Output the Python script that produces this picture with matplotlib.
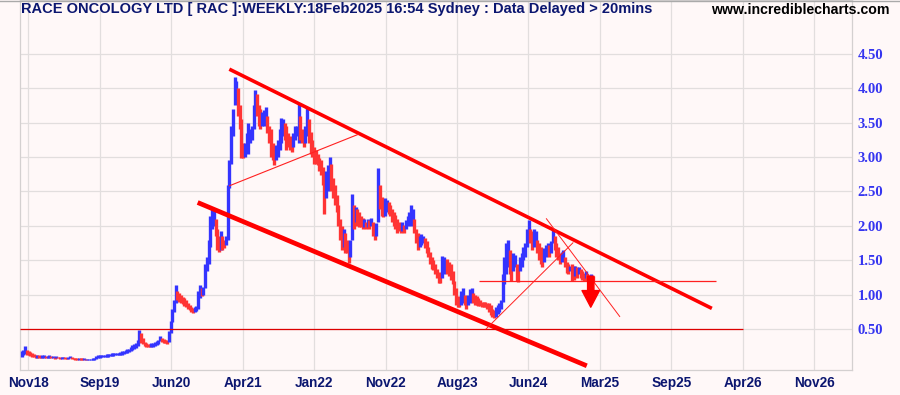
import numpy as np
import matplotlib
matplotlib.use("Agg")
import matplotlib.pyplot as plt
from matplotlib.lines import Line2D

# weekly bars, Nov 2018 -> 18 Feb 2025 (week index 0..330)
low = [
    .10, .12, .14, .12, .12, .11, .10, .10, .09, .09,
    .08, .08, .08, .09, .08, .08, .09, .08, .08, .07,
    .08, .08, .07, .07, .08, .07, .07, .07, .08, .07,
    .07, .06, .06, .06, .06, .05, .05, .05, .05, .05,
    .05, .05, .06, .07, .08, .09, .10, .10, .10, .10,
    .10, .11, .11, .11, .12, .12, .12, .13, .13, .14,
    .15, .16, .17, .18, .20, .22, .23, .26, .32, .30,
    .28, .26, .25, .24, .24, .25, .25, .26, .27, .28,
    .33, .31, .30, .30, .29, .32, .45, .60, .75, .88,
    .92, .90, .88, .86, .84, .82, .80, .78, .75, .74,
    .75, .76, .80, .95, .98, 1.00, 1.10, 1.35, 1.45, 1.70,
    1.95, 2.00, 1.85, 1.65, 1.62, 1.65, 1.65, 1.68, 1.72, 1.80,
    2.55, 2.90, 3.30, 3.75, 3.85, 3.60, 3.40, 2.98, 2.98, 3.00,
    3.10, 3.05, 3.20, 3.25, 3.40, 3.70, 3.60, 3.45, 3.40, 3.45,
    3.45, 3.50, 3.35, 3.20, 3.00, 2.95, 2.88, 2.95, 3.00, 3.10,
    3.20, 3.30, 3.25, 3.10, 3.15, 3.10, 3.08, 3.15, 3.25, 3.30,
    3.20, 3.25, 3.20, 3.15, 3.20, 3.30, 3.20, 3.05, 3.00, 2.90,
    2.90, 2.88, 2.80, 2.74, 2.60, 2.18, 2.40, 2.50, 2.60, 2.50,
    2.40, 2.30, 2.20, 2.00, 1.80, 1.65, 1.70, 1.60, 1.60, 1.46,
    1.55, 1.80, 1.95, 2.05, 2.00, 1.98, 1.98, 1.95, 1.98, 1.95,
    1.98, 1.95, 2.00, 1.85, 1.80, 1.85, 2.05, 2.25, 2.15, 2.13,
    2.15, 2.20, 2.18, 2.15, 2.05, 2.00, 1.95, 1.90, 1.92, 1.90,
    1.92, 1.90, 1.95, 2.00, 2.05, 2.00, 2.05, 1.90, 1.75, 1.65,
    1.70, 1.72, 1.75, 1.68, 1.60, 1.55, 1.45, 1.38, 1.36, 1.30,
    1.25, 1.17, 1.17, 1.25, 1.30, 1.35, 1.30, 1.28, 1.22, 1.15,
    1.00, .85, .82, .82, .85, .88, .85, .80, .85, .88,
    .90, .88, .85, .85, .84, .84, .83, .82, .82, .80,
    .75, .70, .68, .66, .68, .72, .75, .80, .90, 1.15,
    1.30, 1.40, 1.30, 1.20, 1.35, 1.40, 1.20, 1.18, 1.35, 1.40,
    1.50, 1.55, 1.70, 1.85, 1.75, 1.65, 1.70, 1.75, 1.60, 1.50,
    1.45, 1.40, 1.48, 1.55, 1.60, 1.55, 1.60, 1.75, 1.65, 1.55,
    1.50, 1.45, 1.48, 1.50, 1.40, 1.32, 1.30, 1.35, 1.20, 1.22,
    1.28, 1.25, 1.30, 1.25, 1.22, 1.20, 1.25, 1.20, 1.22, 1.20, 1.18,
]
high = [
    .18, .20, .26, .20, .18, .17, .15, .14, .13, .13,
    .12, .11, .12, .12, .11, .11, .12, .11, .11, .10,
    .11, .10, .10, .10, .10, .10, .09, .10, .11, .10,
    .09, .09, .08, .09, .08, .08, .08, .07, .07, .07,
    .07, .08, .09, .11, .12, .13, .13, .13, .13, .14,
    .14, .14, .15, .15, .15, .16, .16, .17, .18, .19,
    .20, .21, .22, .24, .27, .28, .30, .35, .49, .45,
    .38, .32, .30, .29, .28, .30, .30, .31, .33, .35,
    .40, .38, .36, .34, .35, .48, .62, .80, .92, 1.14,
    1.05, 1.02, 1.00, .97, .95, .92, .88, .85, .82, .81,
    .82, .84, 1.05, 1.14, 1.10, 1.12, 1.45, 1.55, 1.80, 2.15,
    2.26, 2.22, 2.10, 1.95, 1.85, 1.92, 1.85, 1.80, 1.85, 2.60,
    2.95, 3.45, 3.70, 4.16, 4.10, 4.00, 3.75, 3.55, 3.20, 3.20,
    3.35, 3.50, 3.40, 3.45, 3.75, 3.97, 3.92, 3.75, 3.70, 3.65,
    3.68, 3.72, 3.60, 3.45, 3.40, 3.20, 3.10, 3.17, 3.25, 3.40,
    3.56, 3.55, 3.50, 3.45, 3.35, 3.30, 3.28, 3.35, 3.45, 3.45,
    3.78, 3.60, 3.40, 3.35, 3.45, 3.73, 3.55, 3.36, 3.25, 3.15,
    3.10, 3.05, 2.98, 2.95, 2.85, 2.70, 2.80, 2.88, 3.00, 2.90,
    2.70, 2.60, 2.45, 2.30, 2.10, 2.00, 1.95, 1.90, 1.80, 1.70,
    1.80, 2.47, 2.30, 2.27, 2.25, 2.20, 2.15, 2.12, 2.10, 2.05,
    2.10, 2.08, 2.12, 2.05, 2.00, 2.04, 2.84, 2.60, 2.42, 2.35,
    2.40, 2.38, 2.35, 2.30, 2.25, 2.20, 2.16, 2.10, 2.05, 2.02,
    2.05, 2.02, 2.08, 2.15, 2.20, 2.30, 2.25, 2.10, 1.95, 1.90,
    1.85, 1.88, 1.85, 1.82, 1.78, 1.70, 1.62, 1.55, 1.50, 1.45,
    1.38, 1.33, 1.30, 1.57, 1.55, 1.50, 1.52, 1.48, 1.45, 1.35,
    1.20, 1.10, .98, .95, 1.05, 1.10, 1.00, .95, 1.00, 1.08,
    1.10, 1.02, 1.00, .98, .95, .92, .90, .90, .89, .88,
    .88, .85, .80, .78, .82, .85, .88, .92, 1.30, 1.55,
    1.75, 1.80, 1.65, 1.50, 1.60, 1.58, 1.45, 1.40, 1.55, 1.60,
    1.70, 1.75, 1.95, 2.08, 1.95, 1.92, 1.95, 1.92, 1.80, 1.75,
    1.70, 1.62, 1.68, 1.72, 1.75, 1.72, 1.78, 1.94, 1.85, 1.75,
    1.70, 1.60, 1.62, 1.65, 1.55, 1.48, 1.45, 1.42, 1.45, 1.42,
    1.42, 1.40, 1.40, 1.38, 1.35, 1.32, 1.35, 1.30, 1.28, 1.30, 1.28,
]

x_labels = ["Nov18", "Sep19", "Jun20", "Apr21", "Jan22", "Nov22",
            "Aug23", "Jun24", "Mar25", "Sep25", "Apr26", "Nov26"]
y_ticks = [0.5, 1.0, 1.5, 2.0, 2.5, 3.0, 3.5, 4.0, 4.5]

# drawn trendlines: (week, price) end points
upper_channel = [(120.0, 4.275), (398.9, 0.803)]
lower_channel = [(101.7, 2.34), (326.6, -0.03)]
triangle_line = [(119.8, 2.58), (194.6, 3.33)]
support_050 = [(-1.0, 0.50), (417.0, 0.50)]
support_120 = [(264.5, 1.205), (401.2, 1.205)]
uptrend_thin = [(268.2, 0.50), (318.8, 1.76)]
downtrend_thin = [(303.1, 2.11), (345.8, 0.68)]

BG = "#fff8f8"
BLUE = "#3434ff"
RED = "#ff3434"

fig = plt.figure(figsize=(9, 3.95), dpi=100, facecolor=BG)
ax = fig.add_axes([20 / 900, 25 / 395, 832 / 900, 370 / 395])
ax.set_facecolor(BG)

lo = np.array(low)
hi = np.array(high)
mid = (lo + hi) / 2
weeks = np.arange(len(lo))
cols = [BLUE if i == 0 or mid[i] >= mid[i - 1] else RED for i in weeks]
ax.vlines(weeks, lo, hi, colors=cols, linewidth=2.4, zorder=3)

# trendlines
def seg(pts, **kw):
    (x0, y0), (x1, y1) = pts
    ax.plot([x0, x1], [y0, y1], zorder=4, solid_capstyle="butt", **kw)

seg(upper_channel, color="#ff0000", lw=2.6)
seg(lower_channel, color="#ff0000", lw=3.4)
seg(triangle_line, color="#ff2020", lw=0.8)
seg(support_050, color="#dd0000", lw=0.9)
seg(support_120, color="#ff2020", lw=0.9)
seg(uptrend_thin, color="#ff2020", lw=0.7)
seg(downtrend_thin, color="#ff2020", lw=0.7)

ax.annotate("", xy=(328.9, 0.82), xytext=(328.9, 1.27),
            arrowprops=dict(arrowstyle="simple,head_length=1.0,head_width=1.05,tail_width=0.38",
                            color="#ff0000", mutation_scale=12, shrinkA=0, shrinkB=0),
            zorder=5)

ax.set_xlim(-1.0, 479.9)
ax.set_ylim(-0.091, 5.279)

ax.set_xticks(3.8 + 41.3 * np.arange(len(x_labels)))
ax.set_xticklabels(x_labels, fontfamily="Liberation Sans", fontweight="bold",
                   fontsize=9.8, color="#0b1670")
ax.set_yticks(y_ticks)
ax.set_yticklabels([f"{v:.2f}" for v in y_ticks], fontfamily="Liberation Serif",
                   fontweight="bold", fontsize=10.5, color="#3535f0")
ax.yaxis.tick_right()
ax.tick_params(axis="both", length=0)
ax.tick_params(axis="x", pad=4)
ax.tick_params(axis="y", pad=4)
ax.grid(True, color="#e2dede", lw=0.9, zorder=0)
for s in ax.spines.values():
    s.set_color("#d4d0d0")
    s.set_linewidth(0.9)

fig.text(20.7 / 900, 1 - 9.5 / 395,
         "RACE ONCOLOGY LTD [ RAC ]:WEEKLY:18Feb2025 16:54 Sydney : Data Delayed > 20mins",
         fontfamily="Liberation Sans", fontweight="bold", fontsize=10.5,
         color="#0b1670", va="center", ha="left")
fig.text(890 / 900, 1 - 9.5 / 395, "www.incrediblecharts.com",
         fontfamily="Liberation Sans", fontweight="bold", fontsize=10.2,
         color="black", va="center", ha="right")
fig.add_artist(Line2D([0, 1], [0.998, 0.998], color="#aaaaaa", lw=1.0,
                      transform=fig.transFigure))

fig.savefig("out.png", dpi=100, facecolor=BG)
